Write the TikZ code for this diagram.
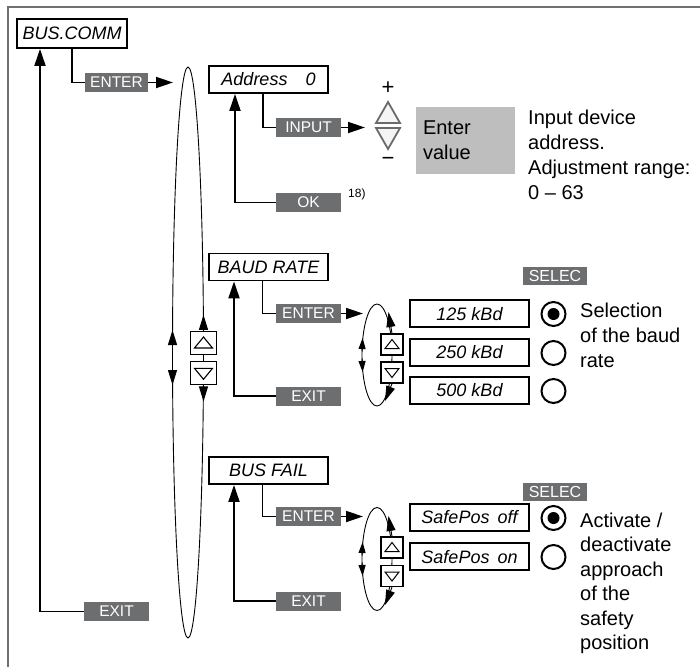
\documentclass[tikz,border=0pt]{standalone}
\usepackage{fontspec}
\setmainfont{Liberation Sans}
\usetikzlibrary{arrows.meta}
\definecolor{keygray}{HTML}{6D6E70}
\definecolor{valgray}{HTML}{BEBEBE}
\definecolor{framegray}{HTML}{707070}
\definecolor{trigray}{HTML}{6A6A6A}
\begin{document}
\begin{tikzpicture}[x=1pt,y=-1pt,
 menubox/.style={draw, line width=1.8pt, fill=white, inner sep=0pt, minimum width=119pt, minimum height=27pt, font=\fontsize{18}{22}\selectfont\itshape},
 key/.style={fill=keygray, text=white, inner sep=0pt, minimum width=65pt, minimum height=19pt, font=\fontsize{15.5}{18}\selectfont},
 btn/.style={draw, line width=1.3pt, fill=white, inner sep=0pt},
 conn/.style={line width=1.8pt},
 arr/.style={conn, -{Triangle[length=17pt,width=11pt]}},
 cyc/.style={line width=0.9pt},
 cycarr/.style={line width=0.9pt, -{Triangle[length=15pt,width=9pt]}},
 smallarr/.style={line width=0.9pt, -{Triangle[length=11pt,width=7pt]}},
 radio/.style={circle, draw, line width=2pt, minimum size=24pt, inner sep=0pt},
 desc/.style={align=left, inner sep=0pt, font=\fontsize{20}{25}\selectfont, anchor=base west},
 uptri/.pic={\draw[line width=1pt] (-7,4) -- (7,4) -- (0,-5) -- cycle;},
 dntri/.pic={\draw[line width=1pt] (-7,-4) -- (7,-4) -- (0,5) -- cycle;},
 bigup/.pic={\draw[line width=1.1pt] (-9,5) -- (9,5) -- (0,-6) -- cycle;},
 bigdn/.pic={\draw[line width=1.1pt] (-9,-5) -- (9,-5) -- (0,6) -- cycle;},
]
\useasboundingbox (0,0) rectangle (700,667);
% frame
\draw[framegray, line width=1.5pt] (700,7) -- (8,7) -- (8,667);

% big cycle ellipse
\draw[cyc] (188,352.5) ellipse [x radius=15.5, y radius=285.5];
\node[btn, minimum width=26pt, minimum height=23pt] (bu1) at (203.5,343) {};
\node[btn, minimum width=26pt, minimum height=23pt] (bd1) at (203.5,373.3) {};
\pic at (bu1) {bigup};
\pic at (bd1) {bigdn};
\draw[cycarr] (bu1.north) -- ++(0,-16);
\draw[cycarr] (bd1.south) -- ++(0,16);
\coordinate (bl1) at (172.5,347);
\coordinate (bl2) at (172.5,368);
\draw[cycarr] (bl1) -- ++(0,-17);
\draw[cycarr] (bl2) -- ++(0,17);

% top level
\node[menubox, minimum width=110pt, minimum height=29pt] (buscomm) at (72,33.5) {BUS.COMM};
\node[key, minimum width=63pt] (enter1) at (116.5,82.5) {ENTER};
\node[key] (exit1) at (116.5,611.5) {EXIT};
\coordinate (t1) at (173,82.5);
\draw[conn] (buscomm.south) |- (enter1.west);
\draw[arr] (enter1.east) -- (t1);
\draw[arr] (exit1.west) -| ([xshift=-32pt]buscomm.south);

% Address
\node[menubox] (addr) at (268.5,79.5) {Address\hspace{18pt}0};
\node[key] (input) at (308.5,127.5) {INPUT};
\node[key] (ok) at (308.5,202.5) {OK};
\node[anchor=base west, inner sep=0pt, font=\fontsize{12}{14}\selectfont] (fn) at (348,197) {18)};
\coordinate (t2) at (365,127.5);
\draw[conn] ([xshift=-5.5pt]addr.south) |- (input.west);
\draw[arr] (input.east) -- (t2);
\draw[arr] (ok.west) -| ([xshift=-33.5pt]addr.south);
\filldraw[fill=gray!8, draw=trigray, line width=1.8pt] (376,123) -- (400,123) -- (388,102) -- cycle;
\filldraw[fill=gray!8, draw=trigray, line width=1.8pt] (376,128) -- (400,128) -- (388,149) -- cycle;
\node[font=\fontsize{22}{24}\selectfont, inner sep=0pt] (plus) at (388,88) {+};
\node[font=\fontsize{22}{24}\selectfont, inner sep=0pt] (minus) at (388,161) {−};
\node[fill=valgray, minimum width=99pt, minimum height=67pt, text width=85pt, align=left, inner sep=7pt, font=\fontsize{20}{25}\selectfont] (val) at (465.5,140.5) {Enter\\value};
\node[desc] (d1) at (528,199) {Input device\\address.\\Adjustment range:\\0 – 63};

% BAUD RATE
\node[menubox] (baud) at (268.5,267) {BAUD RATE};
\node[key] (enter2) at (308.5,313.5) {ENTER};
\node[key] (exit2) at (308.5,396) {EXIT};
\coordinate (t3) at (363,313.5);
\draw[conn] ([xshift=-6pt]baud.south) |- (enter2.west);
\draw[arr] (enter2.east) -- (t3);
\draw[arr] (exit2.west) -| ([xshift=-34.5pt]baud.south);
\draw[cyc] (377,355) ellipse [x radius=15, y radius=51];
\node[btn, minimum width=22pt, minimum height=21pt] (su1) at (392,344.5) {};
\node[btn, minimum width=22pt, minimum height=21pt] (sd1) at (392,372.5) {};
\pic at (su1) {uptri};
\pic at (sd1) {dntri};
\coordinate (sa1) at (388.5,312);
\coordinate (sa2) at (385,401);
\coordinate (sl1) at (362,351);
\coordinate (sl2) at (362,359);
\draw[cycarr] (su1.north) -- (sa1);
\draw[cycarr] (sd1.south) -- (sa2);
\draw[smallarr] (sl1) -- ++(0.6,-13);
\draw[smallarr] (sl2) -- ++(0.6,13);
\node[menubox] (o1) at (469.5,313.7) {125 kBd};
\node[menubox] (o2) at (469.5,352.5) {250 kBd};
\node[menubox] (o3) at (469.5,390.5) {500 kBd};
\node[radio] (r1) at (553.5,314) {};
\node[radio] (r2) at (553.5,353) {};
\node[radio] (r3) at (553.5,391) {};
\fill (r1) circle (6pt);
\node[key, minimum width=64pt, minimum height=18pt, font=\fontsize{16}{18}\selectfont] (sel1) at (555,276) {SELEC};
\node[desc] (d2) at (580,367) {Selection\\of the baud\\rate};

% BUS FAIL
\node[menubox] (bf) at (268.5,470.5) {BUS FAIL};
\node[key] (enter3) at (308.5,516.5) {ENTER};
\node[key] (exit3) at (308.5,601) {EXIT};
\coordinate (t4) at (363,516.5);
\draw[conn] ([xshift=-6pt]bf.south) |- (enter3.west);
\draw[arr] (enter3.east) -- (t4);
\draw[arr] (exit3.west) -| ([xshift=-34.5pt]bf.south);
\draw[cyc] (377,559) ellipse [x radius=15, y radius=51.5];
\node[btn, minimum width=22pt, minimum height=21pt] (su2) at (392,547.5) {};
\node[btn, minimum width=22pt, minimum height=21pt] (sd2) at (392,576) {};
\pic at (su2) {uptri};
\pic at (sd2) {dntri};
\coordinate (sb1) at (388.5,516);
\coordinate (sb2) at (385,605);
\coordinate (sm1) at (362,555);
\coordinate (sm2) at (362,563);
\draw[cycarr] (su2.north) -- (sb1);
\draw[cycarr] (sd2.south) -- (sb2);
\draw[smallarr] (sm1) -- ++(0.6,-13);
\draw[smallarr] (sm2) -- ++(0.6,13);
\node[menubox] (p1) at (469.5,517.5) {SafePos\hspace{8pt}off};
\node[menubox] (p2) at (469.5,556.7) {SafePos\hspace{8pt}on};
\node[radio] (q1) at (553.5,518) {};
\node[radio] (q2) at (553.5,557) {};
\fill (q1) circle (6pt);
\node[key, minimum width=64pt, minimum height=18pt, font=\fontsize{16}{18}\selectfont] (sel2) at (555,492) {SELEC};
\node[desc, font=\fontsize{20}{24.5}\selectfont] (d3) at (580,649.5) {Activate /\\deactivate\\approach\\of the\\safety\\position};
\end{tikzpicture}
\end{document}
